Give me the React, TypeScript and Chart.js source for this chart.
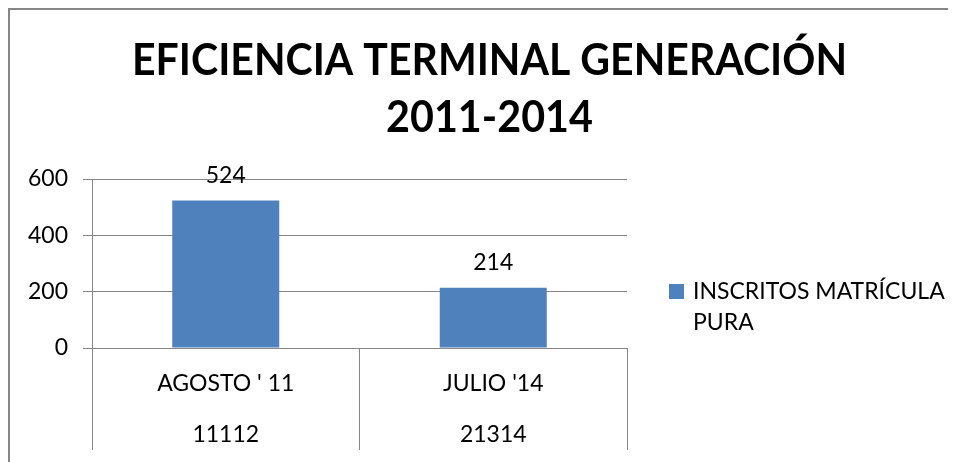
import React, { useEffect, useRef } from 'react';
import { Chart, registerables } from 'chart.js';

Chart.register(...registerables);

const TITLE_LINES = ['EFICIENCIA TERMINAL GENERACIÓN', '2011-2014'];
const CATEGORIES = ["AGOSTO ' 11", "JULIO '14"];
const SUBCATEGORIES = ['11112', '21314'];
const SERIES_NAME = 'INSCRITOS MATRÍCULA PURA';
const LEGEND_LINES = ['INSCRITOS MATRÍCULA', 'PURA'];
const VALUES = [524, 214];
const Y_MIN = 0;
const Y_MAX = 600;
const Y_STEP = 200;

const W = 946;
const H = 452;
const FONT = 'Lato, "Open Sans", sans-serif';
const FS = 23;
const GRID = '#868686';
const BAR = '#4F81BD';
const TEXT = '#000000';

// chart area in canvas coordinates
const AREA = { left: 82, right: 617, top: 169, bottom: 338 };

function drawScaled(ctx: CanvasRenderingContext2D, text: string, cx: number, baseline: number, targetW: number, font: string) {
  ctx.font = font;
  const w = ctx.measureText(text).width;
  const sx = w > 0 ? targetW / w : 1;
  ctx.save();
  ctx.translate(cx, baseline);
  ctx.scale(sx, 1);
  ctx.textAlign = 'center';
  ctx.textBaseline = 'alphabetic';
  ctx.fillStyle = TEXT;
  ctx.fillText(text, 0, 0);
  ctx.restore();
}

const titlePlugin = {
  id: 'customTitle',
  afterDraw(chart: any) {
    const ctx = chart.ctx as CanvasRenderingContext2D;
    const font = `bold 43px ${FONT}`;
    drawScaled(ctx, TITLE_LINES[0], 479.5, 65, 715, font);
    drawScaled(ctx, TITLE_LINES[1], 479.5, 121.7, 207, font);
  },
};

const dataLabelPlugin = {
  id: 'dataLabels',
  afterDatasetsDraw(chart: any) {
    const ctx = chart.ctx as CanvasRenderingContext2D;
    const meta = chart.getDatasetMeta(0);
    const data = chart.data.datasets[0].data as number[];
    ctx.save();
    ctx.font = `${FS}px ${FONT}`;
    ctx.fillStyle = TEXT;
    ctx.textAlign = 'center';
    ctx.textBaseline = 'alphabetic';
    meta.data.forEach((bar: any, i: number) => {
      ctx.fillText(String(data[i]), bar.x, bar.y - 17.4);
    });
    ctx.restore();
  },
};

const legendPlugin = {
  id: 'customLegend',
  afterDraw(chart: any) {
    const ctx = chart.ctx as CanvasRenderingContext2D;
    ctx.save();
    ctx.fillStyle = BAR;
    ctx.fillRect(659, 274, 15, 15);
    ctx.font = `${FS}px ${FONT}`;
    ctx.fillStyle = TEXT;
    ctx.textAlign = 'left';
    ctx.textBaseline = 'alphabetic';
    ctx.fillText(LEGEND_LINES[0], 683, 289);
    ctx.fillText(LEGEND_LINES[1], 683, 320);
    ctx.restore();
  },
};

export default function App() {
  const ref = useRef<HTMLCanvasElement | null>(null);

  useEffect(() => {
    if (!ref.current) return;
    const chart = new Chart(ref.current, {
      type: 'bar',
      data: {
        labels: CATEGORIES.map((c, i) => [c, SUBCATEGORIES[i]]),
        datasets: [
          {
            label: SERIES_NAME,
            data: VALUES,
            backgroundColor: BAR,
            borderWidth: 0,
            barPercentage: 0.4,
            categoryPercentage: 1,
          },
        ],
      },
      options: {
        responsive: false,
        animation: false,
        devicePixelRatio: 1,
        layout: {
          padding: { top: AREA.top, left: 0, right: W - AREA.right, bottom: 0 },
        },
        plugins: {
          legend: { display: false },
          title: { display: false },
          tooltip: { enabled: false },
        },
        scales: {
          x: {
            offset: true,
            grid: {
              offset: true,
              drawOnChartArea: false,
              drawTicks: true,
              tickLength: 102,
              color: GRID,
              lineWidth: 1,
            },
            border: { display: true, color: GRID, width: 1 },
            ticks: {
              font: { family: FONT, size: FS, lineHeight: 51.5 / FS },
              color: TEXT,
              padding: -92.25,
              maxRotation: 0,
              minRotation: 0,
              autoSkip: false,
            },
            afterFit: (s: any) => {
              s.height = H - AREA.bottom;
            },
          },
          y: {
            min: Y_MIN,
            max: Y_MAX,
            ticks: {
              stepSize: Y_STEP,
              font: { family: FONT, size: FS },
              color: TEXT,
              padding: 15,
            },
            grid: { color: GRID, tickLength: 9, lineWidth: 1 },
            border: { display: true, color: GRID, width: 1 },
            afterFit: (s: any) => {
              s.width = AREA.left;
            },
          },
        },
      },
      plugins: [titlePlugin, dataLabelPlugin, legendPlugin],
    } as any);
    return () => chart.destroy();
  }, []);

  return (
    <div
      style={{
        position: 'relative',
        width: 948,
        height: 454,
        borderTop: '2px solid #868686',
        borderLeft: '2px solid #868686',
        boxSizing: 'border-box',
        background: '#ffffff',
      }}
    >
      <canvas
        ref={ref}
        width={W}
        height={H}
        style={{ position: 'absolute', left: 0, top: 0, width: W, height: H, display: 'block' }}
      />
    </div>
  );
}
